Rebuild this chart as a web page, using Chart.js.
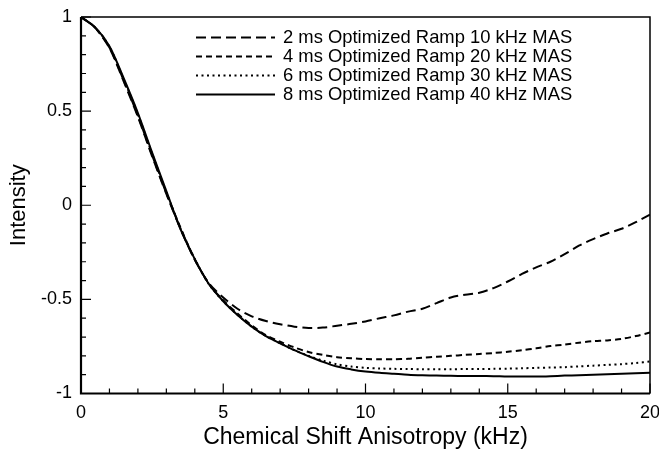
<!DOCTYPE html>
<html>
<head>
<meta charset="utf-8">
<script src="https://cdn.jsdelivr.net/npm/chart.js@4"></script>
<style>
  body { margin: 0; background: #fff; }
  canvas { display: block; }
</style>
</head>
<body>
<canvas id="chart" width="659" height="449"></canvas>
<script>
// chemical shift anisotropy (kHz)
const csa = [0, 0.5, 1, 1.5, 2, 2.5, 3, 3.5, 4, 4.5, 5, 5.5, 6, 6.5, 7, 7.5, 8, 8.5, 9, 9.5,
  10, 10.5, 11, 11.5, 12, 12.5, 13, 13.5, 14, 14.5, 15, 15.5, 16, 16.5, 17, 17.5, 18, 18.5, 19, 19.5, 20];

const ramp2ms = [1.0, 0.942, 0.835, 0.658, 0.47, 0.26, 0.06, -0.125, -0.29, -0.415, -0.49, -0.55,
  -0.59, -0.615, -0.632, -0.645, -0.652, -0.65, -0.64, -0.63, -0.617, -0.6, -0.585, -0.565, -0.55,
  -0.52, -0.49, -0.475, -0.465, -0.44, -0.405, -0.365, -0.33, -0.3, -0.26, -0.215, -0.18, -0.15,
  -0.125, -0.09, -0.05];
const ramp4ms = [1.0, 0.943, 0.838, 0.663, 0.475, 0.266, 0.064, -0.12, -0.288, -0.418, -0.505, -0.575,
  -0.638, -0.69, -0.725, -0.755, -0.78, -0.795, -0.807, -0.813, -0.817, -0.818, -0.818, -0.816,
  -0.81, -0.805, -0.8, -0.795, -0.79, -0.785, -0.778, -0.77, -0.76, -0.748, -0.74, -0.73, -0.722,
  -0.718, -0.71, -0.695, -0.676];
const ramp6ms = [1.0, 0.944, 0.842, 0.67, 0.483, 0.273, 0.07, -0.125, -0.286, -0.42, -0.51, -0.582,
  -0.645, -0.695, -0.733, -0.77, -0.8, -0.825, -0.845, -0.857, -0.864, -0.867, -0.869, -0.87,
  -0.871, -0.871, -0.871, -0.87, -0.87, -0.869, -0.868, -0.866, -0.864, -0.862, -0.86, -0.856,
  -0.852, -0.848, -0.844, -0.838, -0.83];
const ramp8ms = [1.0, 0.945, 0.845, 0.675, 0.49, 0.28, 0.075, -0.128, -0.286, -0.42, -0.51, -0.583,
  -0.645, -0.695, -0.733, -0.77, -0.802, -0.832, -0.857, -0.872, -0.883, -0.89, -0.895, -0.9,
  -0.903, -0.905, -0.906, -0.907, -0.907, -0.908, -0.91, -0.91, -0.91, -0.908, -0.905, -0.903,
  -0.9, -0.898, -0.895, -0.892, -0.89];

const seriesLabels = [
  '2 ms Optimized Ramp 10 kHz MAS',
  '4 ms Optimized Ramp 20 kHz MAS',
  '6 ms Optimized Ramp 30 kHz MAS',
  '8 ms Optimized Ramp 40 kHz MAS'
];
const seriesValues = [ramp2ms, ramp4ms, ramp6ms, ramp8ms];
const dashes = [[10, 5], [6, 4], [2, 3.5], []];

const xTicks = [0, 5, 10, 15, 20];
const yTicks = [-1, -0.5, 0, 0.5, 1];

const FONT = "'Liberation Sans', Arial, sans-serif";

function noPadding(s) {
  s.paddingTop = 0;
  s.paddingBottom = 0;
  s.paddingLeft = 0;
  s.paddingRight = 0;
}

// frame, inward tick marks and the legend inside the plot
const framePlugin = {
  id: 'frame',
  afterDraw(chart) {
    const ctx = chart.ctx;
    const a = chart.chartArea;
    const xs = chart.scales.x, ys = chart.scales.y;
    ctx.save();
    ctx.strokeStyle = '#000';

    ctx.lineWidth = 1.5;
    ctx.beginPath();
    ctx.moveTo(a.left, a.top);
    ctx.lineTo(a.right, a.top);
    ctx.lineTo(a.right, a.bottom);
    ctx.stroke();

    ctx.lineWidth = 2.2;
    ctx.beginPath();
    ctx.moveTo(a.left, a.top);
    ctx.lineTo(a.left, a.bottom);
    ctx.lineTo(a.right, a.bottom);
    ctx.stroke();

    ctx.lineWidth = 1.2;
    ctx.beginPath();
    for (let v = 0; v <= 20; v++) {
      const px = xs.getPixelForValue(v);
      const len = v % 5 === 0 ? 10 : 5;
      ctx.moveTo(px, a.bottom);
      ctx.lineTo(px, a.bottom - len);
    }
    for (let k = -10; k <= 10; k++) {
      const py = ys.getPixelForValue(k / 10);
      const len = k % 5 === 0 ? 10 : 5;
      ctx.moveTo(a.left, py);
      ctx.lineTo(a.left + len, py);
    }
    ctx.stroke();

    // legend
    ctx.font = '18.4px ' + FONT;
    ctx.textBaseline = 'middle';
    ctx.fillStyle = '#000';
    chart.data.datasets.forEach((ds, i) => {
      const y = a.top + 20.5 + i * 19;
      const x0 = a.left + 115;
      ctx.lineWidth = 2;
      ctx.setLineDash(ds.borderDash);
      ctx.beginPath();
      ctx.moveTo(x0, y);
      ctx.lineTo(x0 + 79, y);
      ctx.stroke();
      ctx.setLineDash([]);
      ctx.fillText(ds.label, x0 + 87, y);
    });
    ctx.restore();
  }
};

new Chart(document.getElementById('chart'), {
  type: 'line',
  data: {
    datasets: seriesValues.map((vals, i) => ({
      label: seriesLabels[i],
      data: csa.map((x, j) => ({ x: x, y: vals[j] })),
      borderColor: '#000',
      borderWidth: 2,
      borderDash: dashes[i],
      pointRadius: 0,
      tension: 0.3,
      fill: false
    }))
  },
  options: {
    responsive: false,
    animation: false,
    layout: { padding: { top: 17, right: 9, left: 0, bottom: 0 } },
    plugins: {
      legend: { display: false },
      tooltip: { enabled: false }
    },
    scales: {
      x: {
        type: 'linear',
        min: 0,
        max: 20,
        afterBuildTicks: s => { s.ticks = xTicks.map(v => ({ value: v })); },
        afterFit: s => { s.height = 55.5; noPadding(s); },
        grid: { display: false, drawTicks: false },
        border: { display: false },
        ticks: {
          padding: 9,
          color: '#000',
          maxRotation: 0,
          font: { family: FONT, size: 18 },
          callback: v => String(v)
        },
        title: {
          display: true,
          text: 'Chemical Shift Anisotropy (kHz)',
          color: '#000',
          padding: 0,
          font: { family: FONT, size: 23, lineHeight: 1 }
        }
      },
      y: {
        type: 'linear',
        min: -1,
        max: 1,
        afterBuildTicks: s => { s.ticks = yTicks.map(v => ({ value: v })); },
        afterFit: s => { s.width = 81; noPadding(s); },
        grid: { display: false, drawTicks: false },
        border: { display: false },
        ticks: {
          padding: 9,
          color: '#000',
          font: { family: FONT, size: 18 },
          callback: v => String(v)
        },
        title: {
          display: true,
          text: 'Intensity',
          color: '#000',
          padding: { top: 8, bottom: 0 },
          font: { family: FONT, size: 22, lineHeight: 1 }
        }
      }
    }
  },
  plugins: [framePlugin]
});
</script>
</body>
</html>
